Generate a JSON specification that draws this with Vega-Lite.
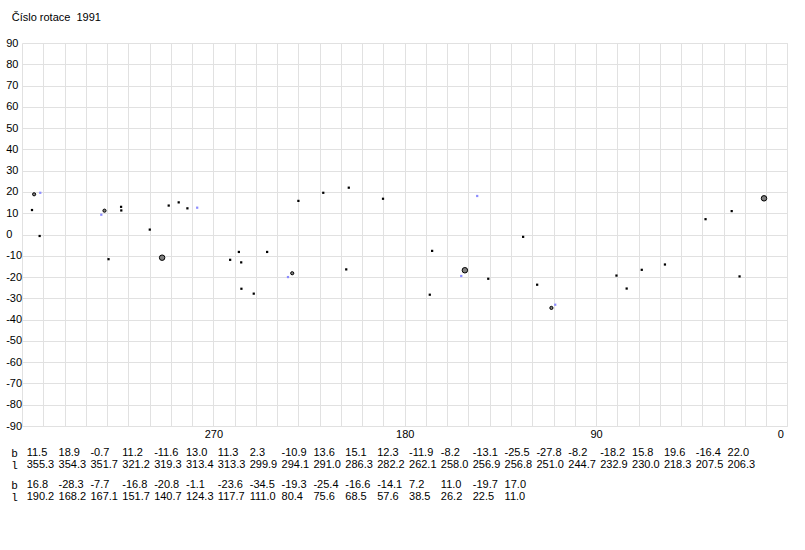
{
  "$schema": "https://vega.github.io/schema/vega-lite/v6.json",
  "background": "white",
  "padding": {"left": 5, "top": 12, "right": 5, "bottom": 5},
  "title": {"text": "Číslo rotace \u00a01991", "anchor": "start", "frame": "bounds", "dx": 6, "fontSize": 11, "fontWeight": "normal", "font": "Liberation Sans", "color": "black", "offset": 14},
  "config": {
    "view": {"stroke": null},
    "axis": {"labelFont": "Liberation Sans", "labelColor": "black", "labelFontSize": 11},
    "locale": {"number": {"decimal": ".", "thousands": ",", "grouping": [3], "currency": ["", ""], "minus": "-"}}
  },
  "datasets": {
    "spots": [
      {"l": 355.3, "b": 11.5, "velikost": 0},
      {"l": 354.3, "b": 18.9, "velikost": 1},
      {"l": 351.7, "b": -0.7, "velikost": 0},
      {"l": 321.2, "b": 11.2, "velikost": 1},
      {"l": 319.3, "b": -11.6, "velikost": 0},
      {"l": 313.4, "b": 13.0, "velikost": 0},
      {"l": 313.3, "b": 11.3, "velikost": 0},
      {"l": 299.9, "b": 2.3, "velikost": 0},
      {"l": 294.1, "b": -10.9, "velikost": 2},
      {"l": 291.0, "b": 13.6, "velikost": 0},
      {"l": 286.3, "b": 15.1, "velikost": 0},
      {"l": 282.2, "b": 12.3, "velikost": 0},
      {"l": 262.1, "b": -11.9, "velikost": 0},
      {"l": 258.0, "b": -8.2, "velikost": 0},
      {"l": 256.9, "b": -13.1, "velikost": 0},
      {"l": 256.8, "b": -25.5, "velikost": 0},
      {"l": 251.0, "b": -27.8, "velikost": 0},
      {"l": 244.7, "b": -8.2, "velikost": 0},
      {"l": 232.9, "b": -18.2, "velikost": 1},
      {"l": 230.0, "b": 15.8, "velikost": 0},
      {"l": 218.3, "b": 19.6, "velikost": 0},
      {"l": 207.5, "b": -16.4, "velikost": 0},
      {"l": 206.3, "b": 22.0, "velikost": 0},
      {"l": 190.2, "b": 16.8, "velikost": 0},
      {"l": 168.2, "b": -28.3, "velikost": 0},
      {"l": 167.1, "b": -7.7, "velikost": 0},
      {"l": 151.7, "b": -16.8, "velikost": 2},
      {"l": 140.7, "b": -20.8, "velikost": 0},
      {"l": 124.3, "b": -1.1, "velikost": 0},
      {"l": 117.7, "b": -23.6, "velikost": 0},
      {"l": 111.0, "b": -34.5, "velikost": 1},
      {"l": 80.4, "b": -19.3, "velikost": 0},
      {"l": 75.6, "b": -25.4, "velikost": 0},
      {"l": 68.5, "b": -16.6, "velikost": 0},
      {"l": 57.6, "b": -14.1, "velikost": 0},
      {"l": 38.5, "b": 7.2, "velikost": 0},
      {"l": 26.2, "b": 11.0, "velikost": 0},
      {"l": 22.5, "b": -19.7, "velikost": 0},
      {"l": 11.0, "b": 17.0, "velikost": 2}
    ],
    "blue": [
      {"l": 351.4, "b": 19.6},
      {"l": 322.7, "b": 9.3},
      {"l": 277.6, "b": 12.6},
      {"l": 234.9, "b": -20.0},
      {"l": 153.4, "b": -19.5},
      {"l": 145.9, "b": 18.1},
      {"l": 109.2, "b": -33.0}
    ]
  },
  "spacing": 8,
  "vconcat": [
    {
      "width": 765.4,
      "height": 383,
      "encoding": {
        "x": {"field": "l", "type": "quantitative", "scale": {"domain": [0, 360], "reverse": true, "nice": false, "zero": false},
          "axis": {"title": null, "values": [0,10,20,30,40,50,60,70,80,90,100,110,120,130,140,150,160,170,180,190,200,210,220,230,240,250,260,270,280,290,300,310,320,330,340,350,360],
            "labelExpr": "datum.value % 90 === 0 && datum.value < 360 ? datum.label : ''",
            "grid": true, "gridColor": "#e1e1e1", "gridOpacity": 1, "ticks": false, "tickSize": 0, "domain": false, "labelPadding": 2, "labelFlush": true, "labelFlushOffset": -4, "labelOverlap": false, "labelBound": false}},
        "y": {"field": "b", "type": "quantitative", "scale": {"domain": [-90, 90], "nice": false, "zero": false},
          "axis": {"title": null, "values": [-90,-80,-70,-60,-50,-40,-30,-20,-10,0,10,20,30,40,50,60,70,80,90],
            "grid": true, "gridColor": "#e1e1e1", "gridOpacity": 1, "ticks": false, "tickSize": 0, "domain": false, "labelAlign": "left", "labelPadding": 16.3, "labelOverlap": false, "labelBound": false}}
      },
      "layer": [
        {
          "data": {"name": "blue"},
          "mark": {"type": "point", "shape": "square", "filled": true, "size": 5, "color": "#8c8cff", "opacity": 1}
        },
        {
          "data": {"name": "spots"},
          "transform": [{"filter": "datum.velikost == 0"}],
          "mark": {"type": "point", "shape": "square", "filled": true, "size": 5, "color": "black", "opacity": 1}
        },
        {
          "data": {"name": "spots"},
          "transform": [{"filter": "datum.velikost > 0"}],
          "mark": {"type": "point", "shape": "circle", "filled": true, "fill": "#808080", "stroke": "black", "strokeWidth": 1, "opacity": 1, "fillOpacity": 1, "strokeOpacity": 1},
          "encoding": {
            "size": {"field": "velikost", "type": "ordinal", "scale": {"domain": [1, 2], "range": [10, 30]}, "legend": null}
          }
        }
      ]
    },
    {
      "data": {"name": "spots"},
      "transform": [
        {"window": [{"op": "row_number", "as": "poradi"}], "sort": [{"field": "l", "order": "descending"}]},
        {"filter": "datum.poradi <= 23"},
        {"fold": ["b", "l"], "as": ["velicina", "hodnota"]}
      ],
      "width": 710.3,
      "height": 24,
      "mark": {"type": "text", "align": "left", "baseline": "middle", "fontSize": 11, "font": "Liberation Sans", "color": "black"},
      "encoding": {
        "x": {"field": "poradi", "type": "ordinal", "scale": {"type": "point", "domain": [1,2,3,4,5,6,7,8,9,10,11,12,13,14,15,16,17,18,19,20,21,22,23], "padding": 0.1475}, "axis": null},
        "y": {"field": "velicina", "type": "nominal", "scale": {"type": "point", "domain": ["b", "l"], "padding": 0.5},
          "axis": {"title": null, "labelAlign": "left", "labelPadding": 11.3, "ticks": false, "tickSize": 0, "domain": false, "grid": false, "labelFont": "Liberation Mono", "labelFontSize": 11}},
        "text": {"field": "hodnota", "type": "quantitative", "format": ".1f"}
      }
    },
    {
      "data": {"name": "spots"},
      "transform": [
        {"window": [{"op": "row_number", "as": "poradi"}], "sort": [{"field": "l", "order": "descending"}]},
        {"filter": "datum.poradi > 23"},
        {"window": [{"op": "row_number", "as": "sloupec"}], "sort": [{"field": "l", "order": "descending"}]},
        {"fold": ["b", "l"], "as": ["velicina", "hodnota"]}
      ],
      "width": 710.3,
      "height": 24,
      "mark": {"type": "text", "align": "left", "baseline": "middle", "fontSize": 11, "font": "Liberation Sans", "color": "black"},
      "encoding": {
        "x": {"field": "sloupec", "type": "ordinal", "scale": {"type": "point", "domain": [1,2,3,4,5,6,7,8,9,10,11,12,13,14,15,16,17,18,19,20,21,22,23], "padding": 0.1475}, "axis": null},
        "y": {"field": "velicina", "type": "nominal", "scale": {"type": "point", "domain": ["b", "l"], "padding": 0.5},
          "axis": {"title": null, "labelAlign": "left", "labelPadding": 11.3, "ticks": false, "tickSize": 0, "domain": false, "grid": false, "labelFont": "Liberation Mono", "labelFontSize": 11}},
        "text": {"field": "hodnota", "type": "quantitative", "format": ".1f"}
      }
    }
  ]
}
